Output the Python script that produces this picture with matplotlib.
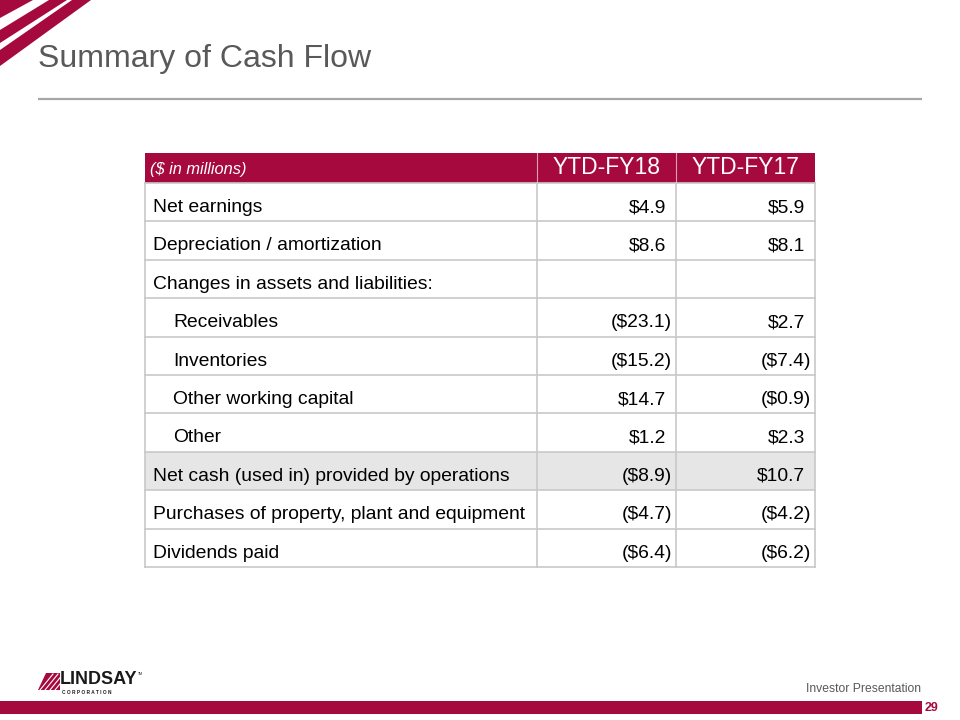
import matplotlib
matplotlib.use("Agg")
from matplotlib import pyplot as plt
from matplotlib.patches import Rectangle, Polygon

plt.rcParams["font.family"] = ["Liberation Sans", "DejaVu Sans"]

RED = "#A6093D"
GRID = "#C8C8C8"

# table data ($ in millions)
row_labels = [
    "Net earnings",
    "Depreciation / amortization",
    "Changes in assets and liabilities:",
    "Receivables",
    "Inventories",
    "Other working capital",
    "Other",
    "Net cash (used in) provided by operations",
    "Purchases of property, plant and equipment",
    "Dividends paid",
]
indented = [False, False, False, True, True, True, True, False, False, False]
ytd_fy18 = [4.9, 8.6, None, -23.1, -15.2, 14.7, 1.2, -8.9, -4.7, -6.4]
ytd_fy17 = [5.9, 8.1, None, 2.7, -7.4, -0.9, 2.3, 10.7, -4.2, -6.2]
col_headers = ["YTD-FY18", "YTD-FY17"]
highlight_row = 7


def fmt(v):
    if v is None:
        return ""
    if v < 0:
        return "(${:.1f})".format(-v)
    return "${:.1f}".format(v)


fig = plt.figure(figsize=(9.6, 7.2), dpi=100)
fig.set_facecolor("white")
ax = fig.add_axes([0, 0, 1, 1])
ax.set_xlim(0, 960)
ax.set_ylim(720, 0)
ax.axis("off")

# corner stripes
ax.add_patch(Polygon([(0, 0), (33, 0), (0, 18)], closed=True, color=RED, lw=0))
ax.add_patch(Polygon([(49, 0), (67, 0), (0, 43), (0, 30)], closed=True, color=RED, lw=0))
ax.add_patch(Polygon([(72, 0), (91, 0), (0, 66), (0, 50)], closed=True, color=RED, lw=0))

# title
ax.text(38, 67, "Summary of Cash Flow", fontsize=23, color="#595959",
        ha="left", va="baseline")
ax.plot([38, 922], [99, 99], color="#A6A6A6", lw=1.6, solid_capstyle="butt")

# table geometry
x0, x1, x2, x3 = 145, 537, 676, 815
head_top, head_bot = 153, 183
row_h = (567 - head_bot) / len(row_labels)
BODY = 13.9

ax.add_patch(Rectangle((x0, head_top), x3 - x0, head_bot - head_top,
                       color=RED, lw=0))
ax.plot([x1, x1], [head_top, head_bot], color="#D9A0B2", lw=0.8)
ax.plot([x2, x2], [head_top, head_bot], color="#D9A0B2", lw=0.8)
ax.text(x0 + 5, 174, "($ in millions)", fontsize=11.8,
        style="italic", color="white", ha="left", va="baseline")
ax.text((x1 + x2) / 2, 174, col_headers[0], fontsize=16.5,
        color="white", ha="center", va="baseline")
ax.text((x2 + x3) / 2, 174, col_headers[1], fontsize=16.5,
        color="white", ha="center", va="baseline")

for i, label in enumerate(row_labels):
    top = head_bot + i * row_h
    base = top + 29
    if i == highlight_row:
        ax.add_patch(Rectangle((x0, top), x3 - x0, row_h, color="#E6E6E6", lw=0))
    tx = x0 + 28 if indented[i] else x0 + 8
    ax.text(tx, base, label, fontsize=BODY, color="black", ha="left", va="baseline")
    for v, right in ((ytd_fy18[i], x2), (ytd_fy17[i], x3)):
        if v is None:
            continue
        rx = right - 4 if v < 0 else right - 10
        ax.text(rx, base, fmt(v), fontsize=BODY, color="black",
                ha="right", va="baseline")

# grid lines
for i in range(len(row_labels) + 1):
    y = head_bot + i * row_h
    ax.plot([x0, x3], [y, y], color=GRID, lw=1.2)
for x in (x0, x1, x2, x3):
    ax.plot([x, x], [head_bot, 567], color=GRID, lw=1.2)

# footer
ax.add_patch(Rectangle((0, 701), 922, 13, color=RED, lw=0))
ax.text(921, 692, "Investor Presentation", fontsize=8.7, color="#595959",
        ha="right", va="baseline",
        family=["Liberation Sans Narrow", "Liberation Sans"])
ax.text(925, 711, "29", fontsize=9, color=RED, fontweight="bold",
        ha="left", va="baseline",
        family=["Liberation Sans Narrow", "Liberation Sans"])

# logo
ax.add_patch(Polygon([(46, 673), (60, 673), (60, 690), (38, 690)],
                     closed=True, color=RED, lw=0))
for k in range(4):
    ax.plot([40 + k * 5, 53 + k * 5], [690, 674], color="white", lw=0.8)
ax.text(60, 684, "LINDSAY", fontsize=13, fontweight="bold", color="#1A1A1A",
        ha="left", va="baseline", family=["Liberation Sans Narrow", "Liberation Sans"])
ax.text(138, 675, "TM", fontsize=2.5, color="#1A1A1A", ha="left", va="baseline")
ax.text(62, 693.5, "C O R P O R A T I O N", fontsize=3.4, fontweight="bold",
        color="#1A1A1A", ha="left", va="baseline")

fig.savefig("out.png", dpi=100)
